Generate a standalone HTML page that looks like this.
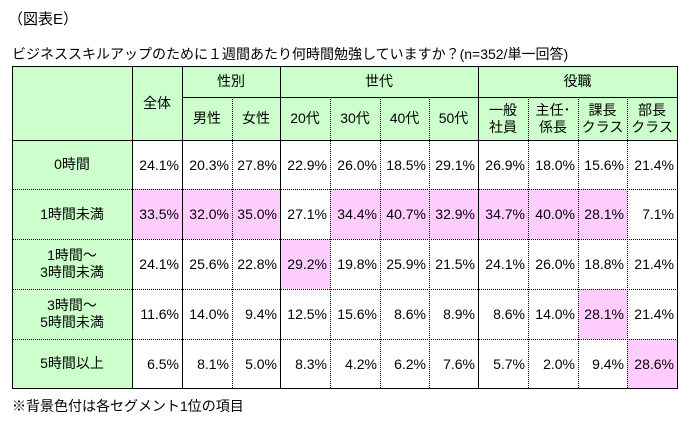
<!DOCTYPE html>
<html><head><meta charset="utf-8"><style>
body{margin:0;width:695px;height:428px;background:#fff;font-family:"Liberation Sans","Noto Sans CJK JP",sans-serif;color:#000;position:relative;overflow:hidden}
div{position:absolute;box-sizing:border-box}
.t{font-size:14px;white-space:nowrap}
.c{display:flex;align-items:center;justify-content:center;text-align:center;font-size:14px;line-height:17px}
.n{display:flex;align-items:center;justify-content:flex-end;padding-right:3px;font-size:14px}
.v{width:0;border-left:1px solid #000}
.vd{width:0;border-left:1px dotted #000}
.h{height:0;border-top:1px solid #000}
.hd{height:0;border-top:1px dotted #000}
</style></head><body>
<div class="t" style="left:8px;top:8px;font-size:15px">（図表E）</div>
<div class="t" style="left:12px;top:44px">ビジネススキルアップのために１週間あたり何時間勉強していますか？(n=352/単一回答)</div>
<!-- backgrounds -->
<div style="left:12px;top:66px;width:665px;height:74px;background:#ccffcc"></div>
<div style="left:12px;top:140px;width:120px;height:248px;background:#ccffcc"></div>
<div style="left:132px;top:189px;width:148px;height:50px;background:#ffccff"></div>
<div style="left:330px;top:189px;width:297px;height:50px;background:#ffccff"></div>
<div style="left:280px;top:239px;width:50px;height:50px;background:#ffccff"></div>
<div style="left:578px;top:289px;width:49px;height:50px;background:#ffccff"></div>
<div style="left:627px;top:339px;width:50px;height:49px;background:#ffccff"></div>
<!-- lines -->
<div class="h" style="left:12px;top:66px;width:666px"></div>
<div class="h" style="left:182px;top:97px;width:496px"></div>
<div class="h" style="left:12px;top:140px;width:666px"></div>
<div class="hd" style="left:12px;top:189px;width:666px"></div>
<div class="hd" style="left:12px;top:239px;width:666px"></div>
<div class="hd" style="left:12px;top:289px;width:666px"></div>
<div class="hd" style="left:12px;top:339px;width:666px"></div>
<div class="h" style="left:12px;top:388px;width:666px"></div>
<div class="v" style="left:12px;top:66px;height:323px"></div>
<div class="v" style="left:132px;top:66px;height:323px"></div>
<div class="v" style="left:182px;top:66px;height:323px"></div>
<div class="v" style="left:280px;top:66px;height:323px"></div>
<div class="v" style="left:478px;top:66px;height:323px"></div>
<div class="v" style="left:677px;top:66px;height:323px"></div>
<div class="vd" style="left:232px;top:97px;height:291px"></div>
<div class="vd" style="left:330px;top:97px;height:291px"></div>
<div class="vd" style="left:380px;top:97px;height:291px"></div>
<div class="vd" style="left:429px;top:97px;height:291px"></div>
<div class="vd" style="left:528px;top:97px;height:291px"></div>
<div class="vd" style="left:578px;top:97px;height:291px"></div>
<div class="vd" style="left:627px;top:97px;height:291px"></div>
<!-- header text -->
<div class="c" style="left:132px;top:66px;width:50px;height:74px">全体</div>
<div class="c" style="left:182px;top:66px;width:98px;height:31px">性別</div>
<div class="c" style="left:280px;top:66px;width:198px;height:31px">世代</div>
<div class="c" style="left:478px;top:66px;width:199px;height:31px">役職</div>
<div class="c" style="left:182px;top:97px;width:50px;height:43px">男性</div>
<div class="c" style="left:232px;top:97px;width:48px;height:43px">女性</div>
<div class="c" style="left:280px;top:97px;width:50px;height:43px">20代</div>
<div class="c" style="left:330px;top:97px;width:50px;height:43px">30代</div>
<div class="c" style="left:380px;top:97px;width:49px;height:43px">40代</div>
<div class="c" style="left:429px;top:97px;width:49px;height:43px">50代</div>
<div class="c" style="left:478px;top:97px;width:50px;height:43px">一般<br>社員</div>
<div class="c" style="left:528px;top:97px;width:50px;height:43px">主任･<br>係長</div>
<div class="c" style="left:578px;top:97px;width:49px;height:43px">課長<br>クラス</div>
<div class="c" style="left:627px;top:97px;width:50px;height:43px">部長<br>クラス</div>
<!-- row labels -->
<div class="c" style="left:12px;top:140px;width:120px;height:49px">0時間</div>
<div class="c" style="left:12px;top:189px;width:120px;height:50px">1時間未満</div>
<div class="c" style="left:12px;top:239px;width:120px;height:50px">1時間～<br>3時間未満</div>
<div class="c" style="left:12px;top:289px;width:120px;height:50px">3時間～<br>5時間未満</div>
<div class="c" style="left:12px;top:339px;width:120px;height:49px">5時間以上</div>
<!-- row 1 -->
<div class="n" style="left:132px;top:140px;width:50px;height:49px">24.1%</div>
<div class="n" style="left:182px;top:140px;width:50px;height:49px">20.3%</div>
<div class="n" style="left:232px;top:140px;width:48px;height:49px">27.8%</div>
<div class="n" style="left:280px;top:140px;width:50px;height:49px">22.9%</div>
<div class="n" style="left:330px;top:140px;width:50px;height:49px">26.0%</div>
<div class="n" style="left:380px;top:140px;width:49px;height:49px">18.5%</div>
<div class="n" style="left:429px;top:140px;width:49px;height:49px">29.1%</div>
<div class="n" style="left:478px;top:140px;width:50px;height:49px">26.9%</div>
<div class="n" style="left:528px;top:140px;width:50px;height:49px">18.0%</div>
<div class="n" style="left:578px;top:140px;width:49px;height:49px">15.6%</div>
<div class="n" style="left:627px;top:140px;width:50px;height:49px">21.4%</div>
<!-- row 2 -->
<div class="n" style="left:132px;top:189px;width:50px;height:50px">33.5%</div>
<div class="n" style="left:182px;top:189px;width:50px;height:50px">32.0%</div>
<div class="n" style="left:232px;top:189px;width:48px;height:50px">35.0%</div>
<div class="n" style="left:280px;top:189px;width:50px;height:50px">27.1%</div>
<div class="n" style="left:330px;top:189px;width:50px;height:50px">34.4%</div>
<div class="n" style="left:380px;top:189px;width:49px;height:50px">40.7%</div>
<div class="n" style="left:429px;top:189px;width:49px;height:50px">32.9%</div>
<div class="n" style="left:478px;top:189px;width:50px;height:50px">34.7%</div>
<div class="n" style="left:528px;top:189px;width:50px;height:50px">40.0%</div>
<div class="n" style="left:578px;top:189px;width:49px;height:50px">28.1%</div>
<div class="n" style="left:627px;top:189px;width:50px;height:50px">7.1%</div>
<!-- row 3 -->
<div class="n" style="left:132px;top:239px;width:50px;height:50px">24.1%</div>
<div class="n" style="left:182px;top:239px;width:50px;height:50px">25.6%</div>
<div class="n" style="left:232px;top:239px;width:48px;height:50px">22.8%</div>
<div class="n" style="left:280px;top:239px;width:50px;height:50px">29.2%</div>
<div class="n" style="left:330px;top:239px;width:50px;height:50px">19.8%</div>
<div class="n" style="left:380px;top:239px;width:49px;height:50px">25.9%</div>
<div class="n" style="left:429px;top:239px;width:49px;height:50px">21.5%</div>
<div class="n" style="left:478px;top:239px;width:50px;height:50px">24.1%</div>
<div class="n" style="left:528px;top:239px;width:50px;height:50px">26.0%</div>
<div class="n" style="left:578px;top:239px;width:49px;height:50px">18.8%</div>
<div class="n" style="left:627px;top:239px;width:50px;height:50px">21.4%</div>
<!-- row 4 -->
<div class="n" style="left:132px;top:289px;width:50px;height:50px">11.6%</div>
<div class="n" style="left:182px;top:289px;width:50px;height:50px">14.0%</div>
<div class="n" style="left:232px;top:289px;width:48px;height:50px">9.4%</div>
<div class="n" style="left:280px;top:289px;width:50px;height:50px">12.5%</div>
<div class="n" style="left:330px;top:289px;width:50px;height:50px">15.6%</div>
<div class="n" style="left:380px;top:289px;width:49px;height:50px">8.6%</div>
<div class="n" style="left:429px;top:289px;width:49px;height:50px">8.9%</div>
<div class="n" style="left:478px;top:289px;width:50px;height:50px">8.6%</div>
<div class="n" style="left:528px;top:289px;width:50px;height:50px">14.0%</div>
<div class="n" style="left:578px;top:289px;width:49px;height:50px">28.1%</div>
<div class="n" style="left:627px;top:289px;width:50px;height:50px">21.4%</div>
<!-- row 5 -->
<div class="n" style="left:132px;top:339px;width:50px;height:49px">6.5%</div>
<div class="n" style="left:182px;top:339px;width:50px;height:49px">8.1%</div>
<div class="n" style="left:232px;top:339px;width:48px;height:49px">5.0%</div>
<div class="n" style="left:280px;top:339px;width:50px;height:49px">8.3%</div>
<div class="n" style="left:330px;top:339px;width:50px;height:49px">4.2%</div>
<div class="n" style="left:380px;top:339px;width:49px;height:49px">6.2%</div>
<div class="n" style="left:429px;top:339px;width:49px;height:49px">7.6%</div>
<div class="n" style="left:478px;top:339px;width:50px;height:49px">5.7%</div>
<div class="n" style="left:528px;top:339px;width:50px;height:49px">2.0%</div>
<div class="n" style="left:578px;top:339px;width:49px;height:49px">9.4%</div>
<div class="n" style="left:627px;top:339px;width:50px;height:49px">28.6%</div>
<div class="t" style="left:12px;top:396px">※背景色付は各セグメント1位の項目</div>
</body></html>
